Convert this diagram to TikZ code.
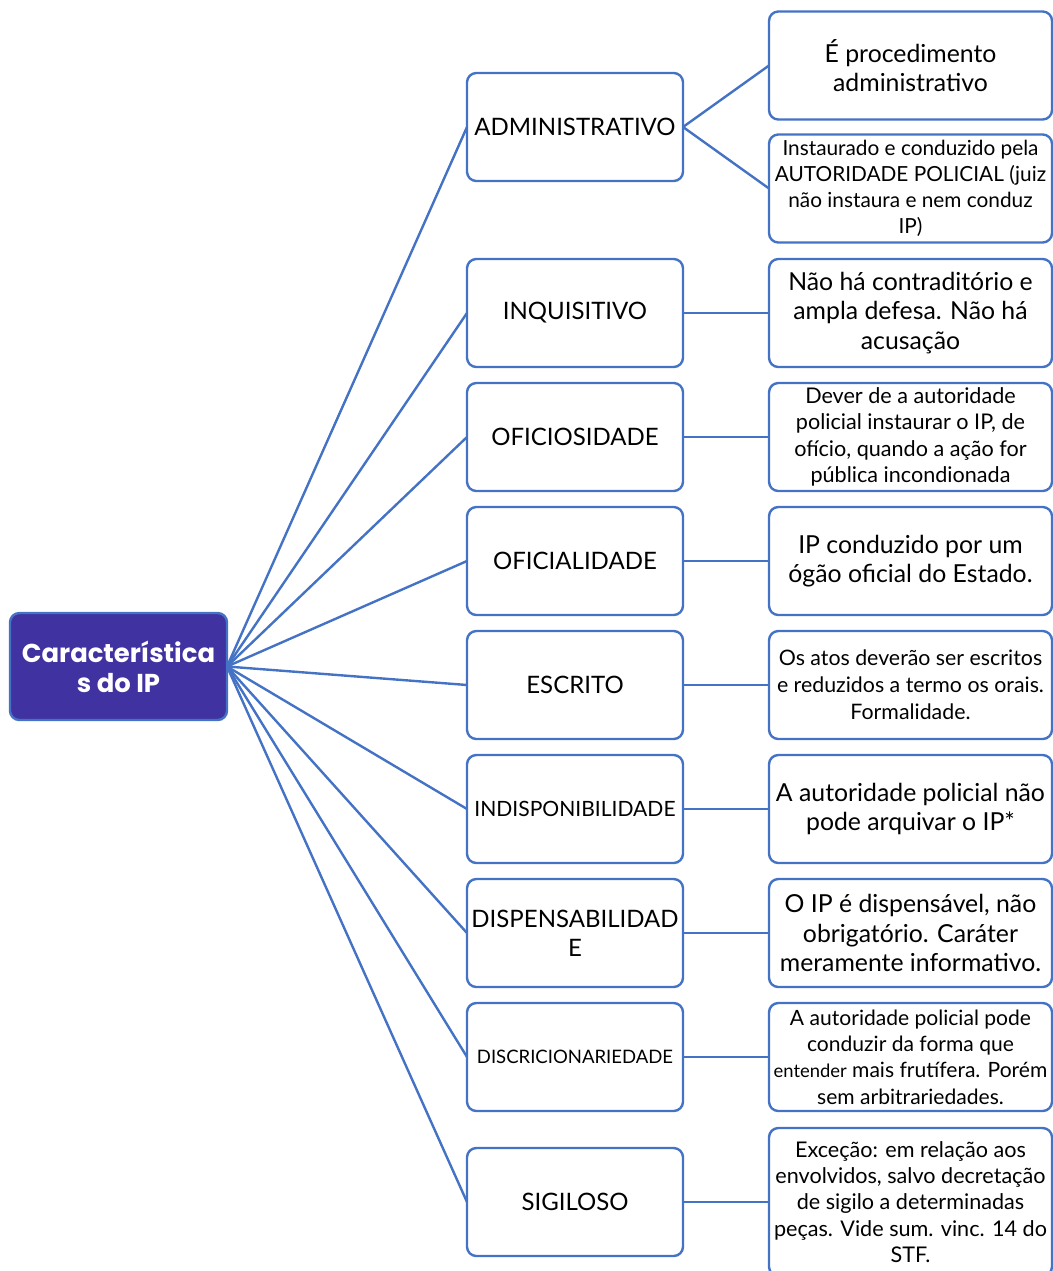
\documentclass[tikz,border=0pt]{standalone}
\usepackage{xcolor}
\usepackage{fontspec}
\setmainfont{Lato}
\newfontfamily\rootfont{Poppins}
\usepackage{tikz}
\usetikzlibrary{positioning}

\definecolor{mapline}{RGB}{68,114,196}
\definecolor{rootfill}{RGB}{64,50,160}

\newcommand{\bigtxt}{\fontsize{18.6}{22}\selectfont}
\newcommand{\midtxt}{\fontsize{16.2}{19.8}\selectfont}

\begin{document}
\begin{tikzpicture}[x=0.75pt,y=-0.75pt,
      root style/.style={rectangle,rounded corners=7pt,draw=mapline,fill=rootfill,
        line width=1.8pt,outer sep=0pt,text=white,minimum width=162.75pt,minimum height=80.25pt,
        align=center,font=\rootfont\bfseries\fontsize{19.4}{22.5}\selectfont},
      item style/.style={rectangle,rounded corners=7pt,draw=mapline,line width=1.8pt,outer sep=0pt,
        minimum width=162pt,minimum height=81pt,align=center,inner sep=1pt,
        font=\fontsize{18}{22}\selectfont},
      desc style/.style={item style,minimum width=212.25pt,font=\bigtxt},
      link/.style={draw=mapline,line width=1.8pt}
      ]
      \useasboundingbox (0,0) rectangle (1053,1271);

      \node[root style] (root) at (118.5,666.5) {Característica\\s do IP};

      \node[item style] (admin) at (575,127) {ADMINISTRATIVO};
      \node[item style, below=58.5pt of admin] (inquis) {INQUISITIVO};
      \node[item style, below=12pt of inquis] (oficios) {OFICIOSIDADE};
      \node[item style, below=12pt of oficios] (oficial) {OFICIALIDADE};
      \node[item style, below=12pt of oficial] (escrito) {ESCRITO};
      \node[item style, below=12pt of escrito, font=\fontsize{15.8}{18}\selectfont] (indisp) {INDISPONIBILIDADE};
      \node[item style, below=12pt of indisp] (disp) {DISPENSABILIDAD\\E};
      \node[item style, below=12pt of disp, font=\fontsize{13.9}{16}\selectfont] (discric) {DISCRICIONARIEDADE};
      \node[item style, below=27.75pt of discric] (sigilo) {SIGILOSO};

      \node[desc style] (admindesc) at (910.5,65.5) {É procedimento\\administrativo};
      \node[desc style, font=\fontsize{15.6}{19.5}\selectfont] (adminauto) at (910.5,188.5)
        {Instaurado e conduzido pela\\AUTORIDADE POLICIAL (juiz\\não instaura e nem conduz\\IP)};
      \node[desc style, right=64.5pt of inquis] (inquisdesc)
        {Não há contraditório e\\ampla defesa. Não há\\acusação};
      \node[desc style, right=64.5pt of oficios, font=\midtxt] (oficiosdesc)
        {Dever de a autoridade\\policial instaurar o IP, de\\ofício, quando a ação for\\pública incondionada};
      \node[desc style, right=64.5pt of oficial] (oficialdesc)
        {IP conduzido por um\\ógão oficial do Estado.};
      \node[desc style, right=64.5pt of escrito, font=\fontsize{16}{20.3}\selectfont] (escritodesc)
        {Os atos deverão ser escritos\\e reduzidos a termo os orais.\\Formalidade.};
      \node[desc style, right=64.5pt of indisp] (indispdesc)
        {A autoridade policial não\\pode arquivar o IP*};
      \node[desc style, right=64.5pt of disp] (dispdesc)
        {O IP é dispensável, não\\obrigatório. Caráter\\meramente informativo.};
      \node[desc style, right=64.5pt of discric, font=\fontsize{15.8}{19.8}\selectfont] (discricdesc)
        {A autoridade policial pode\\conduzir da forma que\\{\fontsize{13.8}{19.8}\selectfont entender} mais frutífera. Porém\\sem arbitrariedades.};
      \node[desc style, right=64.5pt of sigilo, font=\midtxt, minimum height=111pt] (sigilodesc)
        {Exceção: em relação aos\\envolvidos, salvo decretação\\de sigilo a determinadas\\peças. Vide sum. vinc. 14 do\\STF.};

      % root to the features
      \draw[link] (root.east) -- (admin.west);
      \draw[link] (root.east) -- (inquis.west);
      \draw[link] (root.east) -- (oficios.west);
      \draw[link] (root.east) -- (oficial.west);
      \draw[link] (root.east) -- (escrito.west);
      \draw[link] (root.east) -- (indisp.west);
      \draw[link] (root.east) -- (disp.west);
      \draw[link] (root.east) -- (discric.west);
      \draw[link] (root.east) -- (sigilo.west);

      % features to their notes
      \draw[link] (admin.east) -- (admindesc.west);
      \draw[link] (admin.east) -- (adminauto.west);
      \draw[link] (inquis.east) -- (inquisdesc.west);
      \draw[link] (oficios.east) -- (oficiosdesc.west);
      \draw[link] (oficial.east) -- (oficialdesc.west);
      \draw[link] (escrito.east) -- (escritodesc.west);
      \draw[link] (indisp.east) -- (indispdesc.west);
      \draw[link] (disp.east) -- (dispdesc.west);
      \draw[link] (discric.east) -- (discricdesc.west);
      \draw[link] (sigilo.east) -- (sigilodesc.west);

    \end{tikzpicture}
\end{document}
